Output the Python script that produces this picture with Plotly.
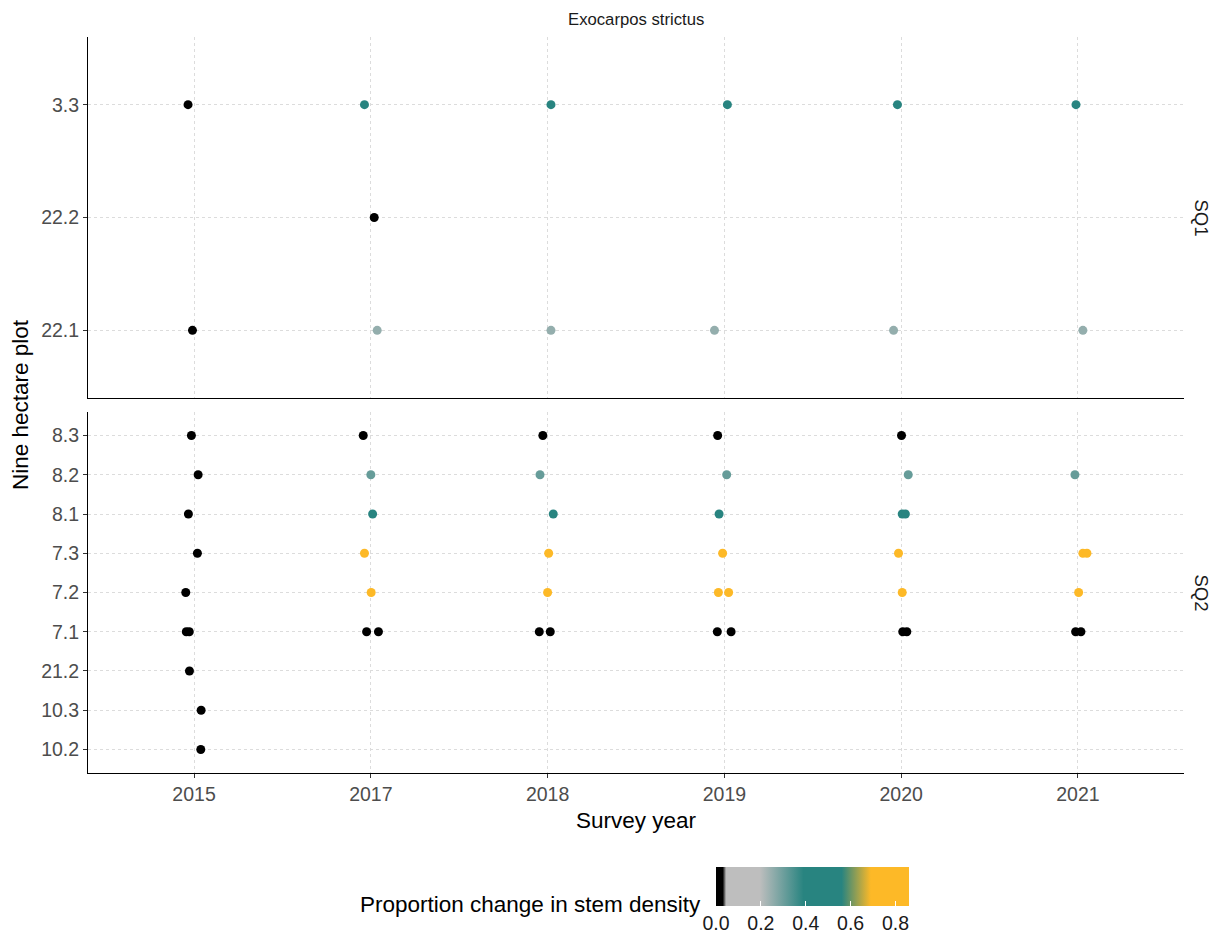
import plotly.graph_objects as go
from plotly.subplots import make_subplots

# ---------------- data ----------------
years = ["2015", "2017", "2018", "2019", "2020", "2021"]
sq1_levels = ["22.1", "22.2", "3.3"]
sq2_levels = ["10.2", "10.3", "21.2", "7.1", "7.2", "7.3", "8.1", "8.2", "8.3"]

sq1_plot = ["3.3", "22.1", "3.3", "22.2", "22.1", "3.3", "22.1", "3.3", "22.1", "3.3", "22.1", "3.3", "22.1"]
sq1_year = ["2015", "2015", "2017", "2017", "2017", "2018", "2018", "2019", "2019", "2020", "2020", "2021", "2021"]
sq1_change = [0, 0, 0.47, 0, 0.25, 0.47, 0.25, 0.47, 0.25, 0.47, 0.25, 0.47, 0.25]
sq1_jitter = [-0.034, -0.009, -0.036, 0.019, 0.036, 0.019, 0.019, 0.017, -0.056, -0.021, -0.043, -0.011, 0.028]

sq2_plot = [
    "8.3", "8.2", "8.1", "7.3", "7.2", "7.1", "7.1", "21.2", "10.3", "10.2",
    "8.3", "8.2", "8.1", "7.3", "7.2", "7.1", "7.1",
    "8.3", "8.2", "8.1", "7.3", "7.2", "7.1", "7.1",
    "8.3", "8.2", "8.1", "7.3", "7.2", "7.2", "7.1", "7.1",
    "8.3", "8.2", "8.1", "8.1", "7.3", "7.2", "7.1", "7.1",
    "8.2", "7.3", "7.3", "7.2", "7.1", "7.1",
]
sq2_year = (["2015"] * 10 + ["2017"] * 7 + ["2018"] * 7 + ["2019"] * 8
            + ["2020"] * 8 + ["2021"] * 6)
sq2_change = [
    0, 0, 0, 0, 0, 0, 0, 0, 0, 0,
    0, 0.31, 0.47, 0.8, 0.8, 0, 0,
    0, 0.31, 0.47, 0.8, 0.8, 0, 0,
    0, 0.31, 0.47, 0.8, 0.8, 0.8, 0, 0,
    0, 0.31, 0.47, 0.47, 0.8, 0.8, 0, 0,
    0.31, 0.8, 0.8, 0.8, 0, 0,
]
sq2_jitter = [
    -0.015, 0.023, -0.032, 0.019, -0.047, -0.044, -0.027, -0.026, 0.040, 0.038,
    -0.043, 0.0, 0.010, -0.036, 0.002, -0.024, 0.043,
    -0.027, -0.043, 0.032, 0.006, 0.0, -0.047, 0.015,
    -0.038, 0.013, -0.030, -0.010, -0.034, 0.024, -0.040, 0.038,
    0.002, 0.040, 0.006, 0.024, -0.015, 0.006, 0.009, 0.032,
    -0.017, 0.028, 0.051, 0.004, -0.013, 0.017,
]

cb_ticks = [0.0, 0.2, 0.4, 0.6, 0.8]
cmax = 0.86

# ---------------- figure ----------------
W, H = 1220, 937
L, R, T, B = 88, 36, 37, 164
ph = H - T - B
pw = W - L - R
FONT = "Liberation Sans, Arial, sans-serif"


def px_x(px):
    return (px - L) / pw


def px_y(py):
    return (H - B - py) / ph


fig = make_subplots(rows=2, cols=1, shared_xaxes=True, vertical_spacing=14 / ph)

colorscale = [
    [0.0, "#000000"],
    [0.03 / cmax, "#000000"],
    [0.045 / cmax, "#BEBEBE"],
    [0.195 / cmax, "#BEBEBE"],
    [0.39 / cmax, "#288480"],
    [0.56 / cmax, "#288480"],
    [0.69 / cmax, "#FDB927"],
    [1.0, "#FDB927"],
]


def add_panel(plots, yrs, vals, jit, levels, row):
    xs = [years.index(y) + j for y, j in zip(yrs, jit)]
    ys = [levels.index(p) for p in plots]
    fig.add_trace(
        go.Scatter(
            x=xs, y=ys, mode="markers",
            marker=dict(size=9, color=vals, coloraxis="coloraxis", line=dict(width=0)),
            showlegend=False,
            hovertext=[f"{p} {y}: {v}" for p, y, v in zip(plots, yrs, vals)],
        ),
        row=row, col=1,
    )
    fig.update_yaxes(
        tickmode="array", tickvals=list(range(len(levels))), ticktext=levels,
        range=[-0.6, len(levels) - 1 + 0.6], row=row, col=1,
    )


add_panel(sq1_plot, sq1_year, sq1_change, sq1_jitter, sq1_levels, 1)
add_panel(sq2_plot, sq2_year, sq2_change, sq2_jitter, sq2_levels, 2)

grid = dict(showgrid=True, gridcolor="#DCDCDC", gridwidth=1, griddash="3px,3px",
            zeroline=False, showline=True, linecolor="#000000", linewidth=1)
tickfont = dict(family=FONT, size=19.5, color="#4D4D4D")

fig.update_xaxes(range=[-0.6, len(years) - 1 + 0.6], tickmode="array",
                 tickvals=list(range(len(years))), ticktext=years, **grid)
fig.update_xaxes(showticklabels=False, ticks="", row=1, col=1)
fig.update_xaxes(ticks="outside", ticklen=4, tickcolor="#333333", tickfont=tickfont, row=2, col=1)
fig.update_yaxes(ticks="outside", ticklen=4, tickcolor="#333333", tickfont=tickfont, **grid)

fig.update_layout(
    width=W, height=H,
    margin=dict(l=L, r=R, t=T, b=B, autoexpand=False),
    paper_bgcolor="white", plot_bgcolor="white",
    font=dict(family=FONT, color="#000000"),
    coloraxis=dict(
        cmin=0, cmax=cmax, colorscale=colorscale,
        colorbar=dict(
            orientation="h",
            xref="container", yref="container",
            x=716 / pw, xanchor="left",
            y=(H - 867) / H, yanchor="top",
            lenmode="pixels", len=193,
            thickness=39, thicknessmode="pixels",
            xpad=0, ypad=0,
            outlinewidth=0,
            tickmode="array", tickvals=cb_ticks,
            ticktext=[f"{t:.1f}" for t in cb_ticks],
            ticks="inside", ticklen=5, tickcolor="white",
            tickfont=dict(family=FONT, size=19.5, color="#1A1A1A"),
        ),
    ),
)

annos = [
    dict(text="Exocarpos strictus", x=0.5, y=px_y(19),
         font=dict(size=16.7, color="#1A1A1A")),
    dict(text="Survey year", x=0.5, y=px_y(820), font=dict(size=22.5)),
    dict(text="Nine hectare plot", x=px_x(20), y=px_y(405), font=dict(size=22.5), textangle=-90),
    dict(text="SQ1", x=px_x(1201), y=px_y(217.5), font=dict(size=18.5, color="#1A1A1A"), textangle=90),
    dict(text="SQ2", x=px_x(1201), y=px_y(592.5), font=dict(size=18.5, color="#1A1A1A"), textangle=90),
    dict(text="Proportion change in stem density", x=px_x(703), y=px_y(904),
         font=dict(size=22.5), xanchor="right"),
]
for a in annos:
    a.setdefault("xanchor", "center")
    a.update(xref="paper", yref="paper", showarrow=False, yanchor="middle")
fig.update_layout(annotations=annos)

fig.write_html("out.html", config={"displayModeBar": False},
               post_script="document.body.style.margin='0';")
